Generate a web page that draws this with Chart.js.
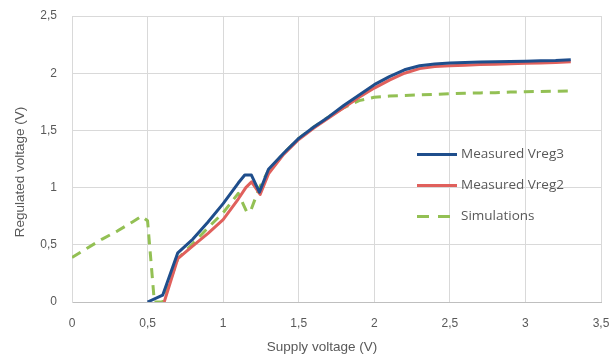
<!DOCTYPE html>
<html>
<head>
<meta charset="utf-8">
<script src="https://cdn.jsdelivr.net/npm/chart.js@4.4.1/dist/chart.umd.min.js"></script>
<style>
  html, body { margin: 0; padding: 0; background: #fff; }
  #wrap { width: 611px; height: 357px; position: relative; }
</style>
</head>
<body>
<div id="wrap"><canvas id="chart" width="611" height="357"></canvas></div>
<script>
// values
const vreg3X = [0.5, 0.6, 0.7, 0.8, 0.9, 1.0, 1.1, 1.143, 1.187, 1.24, 1.3, 1.4, 1.5, 1.6, 1.7, 1.8, 1.9, 2.0, 2.1, 2.2, 2.3, 2.4, 2.5, 2.6, 2.7, 2.8, 2.9, 3.0, 3.1, 3.2, 3.3];
const vreg3Y = [0, 0.06, 0.43, 0.55, 0.70, 0.86, 1.04, 1.11, 1.11, 0.96, 1.16, 1.30, 1.43, 1.53, 1.62, 1.72, 1.81, 1.90, 1.97, 2.03, 2.065, 2.08, 2.09, 2.093, 2.097, 2.10, 2.103, 2.105, 2.108, 2.11, 2.117];

const vreg2X = [0.61, 0.7, 0.8, 0.9, 1.0, 1.1, 1.15, 1.188, 1.245, 1.3, 1.4, 1.5, 1.6, 1.7, 1.8, 1.9, 2.0, 2.1, 2.2, 2.3, 2.4, 2.5, 2.6, 2.7, 2.8, 2.9, 3.0, 3.1, 3.2, 3.3];
const vreg2Y = [0, 0.38, 0.49, 0.60, 0.72, 0.90, 1.00, 1.05, 0.94, 1.12, 1.29, 1.42, 1.52, 1.61, 1.70, 1.79, 1.87, 1.94, 2.00, 2.04, 2.058, 2.065, 2.07, 2.075, 2.078, 2.082, 2.086, 2.09, 2.094, 2.10];

const simX = [0, 0.1, 0.2, 0.3, 0.4, 0.46, 0.5, 0.545, 0.6, 0.7, 0.8, 0.9, 1.0, 1.1, 1.155, 1.18, 1.24, 1.3, 1.4, 1.5, 1.6, 1.7, 1.8, 1.9, 2.0, 2.1, 2.2, 2.3, 2.4, 2.5, 2.6, 2.7, 2.8, 2.9, 3.0, 3.1, 3.2, 3.3];
const simY = [0.39, 0.47, 0.55, 0.62, 0.70, 0.75, 0.71, 0, 0, 0.38, 0.51, 0.65, 0.78, 0.95, 0.79, 0.79, 1.00, 1.15, 1.30, 1.43, 1.53, 1.62, 1.70, 1.76, 1.79, 1.80, 1.805, 1.81, 1.815, 1.82, 1.825, 1.828, 1.83, 1.835, 1.838, 1.84, 1.843, 1.845];

const seriesNames = ['Measured Vreg3', 'Measured Vreg2', 'Simulations'];
const xTickLabels = ['0', '0,5', '1', '1,5', '2', '2,5', '3', '3,5'];
const yTickLabels = ['0', '0,5', '1', '1,5', '2', '2,5'];
const xTitle = 'Supply voltage (V)';
const yTitle = 'Regulated voltage (V)';

const colors = ['#1f4e8c', '#e0605c', '#93c054'];
const gray = '#595959';

function points(xs, ys) {
    return xs.map((x, i) => ({ x: x, y: ys[i] }));
}

// legend + axis titles, placed like the original
const decorations = {
    id: 'decorations',
    afterDraw(chart) {
        const ctx = chart.ctx;
        ctx.save();
        const rows = [154.5, 185.5, 216.5];
        seriesNames.forEach((name, i) => {
            ctx.beginPath();
            ctx.strokeStyle = colors[i];
            ctx.lineWidth = 3;
            ctx.setLineDash(i === 2 ? [12, 9] : []);
            ctx.moveTo(417, rows[i]);
            ctx.lineTo(457, rows[i]);
            ctx.stroke();
            ctx.setLineDash([]);
            ctx.fillStyle = gray;
            ctx.font = '13.5px "Open Sans"';
            ctx.textBaseline = 'middle';
            ctx.textAlign = 'left';
            ctx.fillText(name, 461, rows[i]);
        });

        ctx.font = '13.5px "Liberation Sans"';
        ctx.fillStyle = gray;
        ctx.textAlign = 'center';
        ctx.textBaseline = 'middle';
        ctx.fillText(xTitle, 322, 347);

        ctx.translate(20.5, 172);
        ctx.rotate(-Math.PI / 2);
        ctx.fillText(yTitle, 0, 0);
        ctx.restore();
    }
};

new Chart(document.getElementById('chart'), {
    type: 'line',
    data: {
        datasets: [
            {
                label: seriesNames[0],
                data: points(vreg3X, vreg3Y),
                borderColor: colors[0],
                borderWidth: 3,
                pointRadius: 0,
                tension: 0,
                borderJoinStyle: 'round'
            },
            {
                label: seriesNames[1],
                data: points(vreg2X, vreg2Y),
                borderColor: colors[1],
                borderWidth: 3,
                pointRadius: 0,
                tension: 0,
                borderJoinStyle: 'round'
            },
            {
                label: seriesNames[2],
                data: points(simX, simY),
                borderColor: colors[2],
                borderWidth: 3,
                borderDash: [10, 7],
                pointRadius: 0,
                tension: 0,
                borderJoinStyle: 'round'
            }
        ]
    },
    options: {
        responsive: false,
        animation: false,
        layout: {
            padding: { top: 16, right: 10, left: 0, bottom: 0 }
        },
        plugins: {
            legend: { display: false },
            tooltip: { enabled: false }
        },
        scales: {
            x: {
                type: 'linear',
                min: 0,
                max: 3.5,
                afterFit: (s) => {
                    s.height = 55;
                    s.paddingLeft = 0;
                    s.paddingRight = 0;
                },
                border: { color: '#bfbfbf' },
                grid: { color: '#d9d9d9', drawTicks: false },
                ticks: {
                    stepSize: 0.5,
                    padding: 14,
                    color: gray,
                    font: { family: 'Liberation Sans', size: 12 },
                    maxRotation: 0,
                    callback: (v) => xTickLabels[Math.round(v / 0.5)]
                }
            },
            y: {
                min: 0,
                max: 2.5,
                afterFit: (s) => {
                    s.width = 72;
                    s.paddingTop = 0;
                    s.paddingBottom = 0;
                },
                border: { color: '#d9d9d9' },
                grid: { color: '#d9d9d9', drawTicks: false },
                ticks: {
                    stepSize: 0.5,
                    padding: 15,
                    color: gray,
                    font: { family: 'Liberation Sans', size: 12 },
                    callback: (v) => yTickLabels[Math.round(v / 0.5)]
                }
            }
        }
    },
    plugins: [decorations]
});
</script>
</body>
</html>
